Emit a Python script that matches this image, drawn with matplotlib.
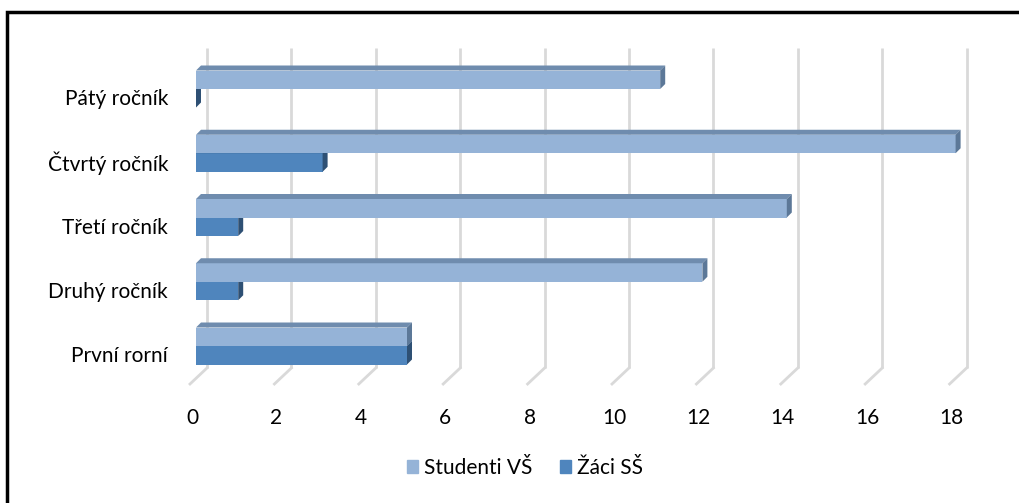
import matplotlib
matplotlib.use("Agg")
import matplotlib.pyplot as plt
from matplotlib.patches import Polygon, Patch, Rectangle
from matplotlib.transforms import ScaledTranslation, offset_copy

plt.rcParams['font.family'] = ['Lato', 'DejaVu Sans']

# data
rocniky = ['První rorní', 'Druhý ročník', 'Třetí ročník', 'Čtvrtý ročník', 'Pátý ročník']
studenti_vs = [5, 12, 14, 18, 11]
zaci_ss = [5, 1, 1, 3, 0]
xticks = [0, 2, 4, 6, 8, 10, 12, 14, 16, 18]

# barvy (predni stena, horni stena, bocni stena)
c_vs = ('#95B3D7', '#6F8CAE', '#5C7898')
c_ss = ('#4F85BD', '#3D6A99', '#2E5074')
grid_c = '#D9D9D9'
fs = 15

W, H, DPI = 1019, 503, 100
fig = plt.figure(figsize=(W / DPI, H / DPI), dpi=DPI)

# rozmisteni os v pixelech
px0, kx = 196, 42.2        # x pixel hodnoty 0, pixely na jednotku
py0, ky = 346, 64.25       # y pixel kategorie 0, pixely na kategorii
left, right, top, bottom = 168, 1012, 20, 400
ax = fig.add_axes([left / W, 1 - bottom / H, (right - left) / W, (bottom - top) / H])
ax.set_xlim((left - px0) / kx, (right - px0) / kx)
ax.set_ylim((py0 - bottom) / ky, (py0 - top) / ky)
for s in ax.spines.values():
    s.set_visible(False)

# hloubka 3D efektu (data)
dx, dy = 5 / kx, 5 / ky
bh = 18.5 / ky

# zadni stena + podlaha
wall_top = (py0 - 48) / ky
wall_bot = (py0 - 368) / ky
floor_front = (py0 - 384) / ky
back = offset_copy(ax.transData, fig=fig, x=11, y=0, units='dots')
front = offset_copy(ax.transData, fig=fig, x=-6, y=0, units='dots')
for v in xticks:
    ax.plot([v, v], [wall_bot, wall_top], color=grid_c, lw=2, transform=back,
            zorder=0, clip_on=False, solid_capstyle='butt')
    # sikma cara na podlaze
    p1 = back.transform((v, wall_bot))
    p2 = front.transform((v, floor_front))
    ax.plot([p1[0], p2[0]], [p1[1], p2[1]], color=grid_c, lw=2,
            transform=None, zorder=0, clip_on=False)

def bar3d(y, vals, colors, z):
    ax.barh(y, vals, height=bh, color=colors[0], zorder=z, linewidth=0)
    for yy, v in zip(y, vals):
        t, b = yy + bh / 2, yy - bh / 2
        ax.add_patch(Polygon([(0, t), (v, t), (v + dx, t + dy), (dx, t + dy)],
                             closed=True, color=colors[1], lw=0, zorder=z))
        ax.add_patch(Polygon([(v, b), (v, t), (v + dx, t + dy), (v + dx, b + dy)],
                             closed=True, color=colors[2], lw=0, zorder=z))

ypos = list(range(len(rocniky)))
bar3d([y - bh / 2 for y in ypos], zaci_ss, c_ss, 2)
bar3d([y + bh / 2 for y in ypos], studenti_vs, c_vs, 3)

# popisky
ax.set_yticks(ypos)
ax.set_yticklabels(rocniky, fontsize=fs, color='black')
ax.tick_params(axis='y', length=0, pad=0)
for lab in ax.get_yticklabels():
    lab.set_transform(lab.get_transform() + ScaledTranslation(0, -8 / DPI, fig.dpi_scale_trans))
ax.set_xticks(xticks)
ax.set_xticklabels([str(v) for v in xticks], fontsize=fs, color='black')
ax.tick_params(axis='x', length=0, pad=6)
for lab in ax.get_xticklabels():
    lab.set_transform(lab.get_transform() + ScaledTranslation(-4 / DPI, 0, fig.dpi_scale_trans))

handles = [Patch(color=c_vs[0], label='Studenti VŠ'), Patch(color=c_ss[0], label='Žáci SŠ')]
fig.legend(handles=handles, loc='center', bbox_to_anchor=(525 / W, 1 - 468 / H), ncol=2,
           frameon=False, fontsize=fs, handlelength=0.55, handleheight=0.55,
           handletextpad=0.3, columnspacing=1.3)

# ramecek grafu
fig.patches.append(Rectangle((7 / W, -0.1), 1.2, 1.1 - 12 / H, transform=fig.transFigure,
                             fill=False, edgecolor='black', lw=2.5))

fig.savefig('out.png', dpi=DPI)
